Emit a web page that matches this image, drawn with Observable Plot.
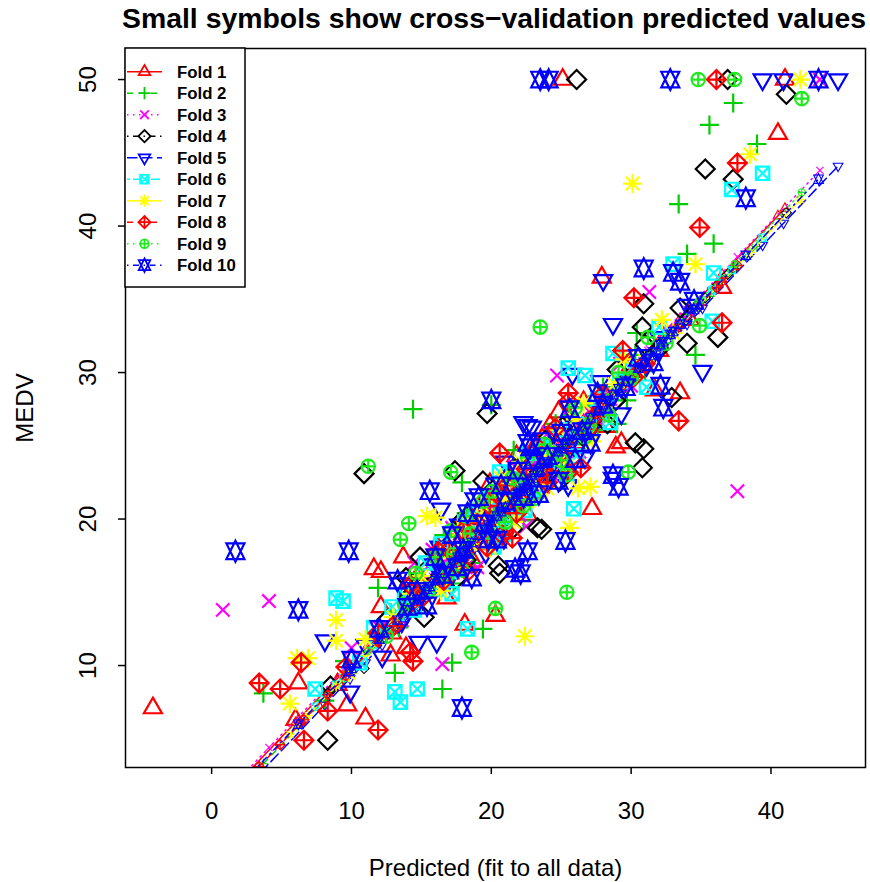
<!DOCTYPE html>
<html><head><meta charset="utf-8">
<script src="https://cdn.jsdelivr.net/npm/d3@7"></script>
<script src="https://cdn.jsdelivr.net/npm/@observablehq/plot@0.6"></script>
<style>
html,body{margin:0;padding:0;background:#fff;overflow:hidden;}
body{width:870px;height:882px;font-family:"Liberation Sans",Arial,sans-serif;position:relative;}
#title{position:absolute;left:0;top:0;width:988px;height:37px;line-height:37px;text-align:center;font-weight:bold;font-size:28.4px;white-space:nowrap;color:#000;}
#chart{position:absolute;left:0;top:37px;}
</style></head><body>
<div id="title">Small symbols show cross−validation predicted values</div>
<div id="chart"></div>
<script>
// ---------- data ----------
const xTicks = [0, 10, 20, 30, 40];
const yTicks = [10, 20, 30, 40, 50];
const foldNames = ["Fold 1","Fold 2","Fold 3","Fold 4","Fold 5","Fold 6","Fold 7","Fold 8","Fold 9","Fold 10"];
const xLabel = "Predicted (fit to all data)";
const yLabel = "MEDV";

// each point: [predicted (fit to all data), MEDV, cross-validation predicted]
const fold1 = [[25.1,50,25.3],[41.0,50,41.2],[40.5,46.3,40.7],[27.9,36.5,28.1],[33.5,28.6,33.7],[28.9,24.9,29.1],[29.3,25.2,29.5],[27.2,20.7,27.4],[24.2,26.4,24.4],[13.7,17.4,13.8],[11.6,16.6,11.7],[12.1,16.4,12.2],[12.1,14.0,12.2],[12.8,10.7,12.9],[13.9,11.2,14.0],[6.2,8.8,6.3],[9.7,7.3,9.8],[11.0,6.4,11.1],[-4.2,7.1,-4.1],[20.3,13.4,20.5],[18.1,12.8,18.2],[31.7,28.8,31.9],[21.3,20.7,21.5],[34.2,33.6,34.4],[36.5,35.8,36.7],
 [15.0,15.5,15.1],[18.0,19.0,18.1],[20.0,21.3,20.2],[22.0,22.5,22.2],[24.0,23.6,24.2],[26.0,25.2,26.2],[30.0,30.5,30.2],[32.0,31.5,32.2],[17.0,16.3,17.1],[23.0,21.8,23.2],[9.0,8.7,9.1],[19.2,20.9,19.3],[21.8,24.3,22.0],[16.2,18.0,16.3],[25.3,23.9,25.5],[23.7,25.6,23.9],[20.8,19.2,21.0],[14.2,14.9,14.3],[27.4,27.0,27.6],[22.6,20.3,22.8],[18.7,17.1,18.8],[6.0,6.3,6.1],
 [16.8,14.6,16.9],[19.6,18.3,19.7],[21.2,23.0,21.4],[23.4,22.7,23.6],[24.8,27.3,25.0],[26.6,28.0,26.8],[28.2,26.3,28.4],[14.8,16.2,14.9],[19.9,22.4,20.1],[22.9,24.6,23.1],[17.6,19.3,17.7],[12.9,12.2,13.0]];
const fold2 = [[37.3,48.4,36.9],[35.6,46.9,35.2],[39.0,45.6,38.6],[33.4,41.5,33.0],[35.9,38.8,35.5],[34.0,38.1,33.6],[30.4,32.7,30.0],[34.6,31.2,34.2],[29.0,26.5,28.6],[21.6,24.7,21.2],[14.4,27.5,14.0],[17.9,22.5,17.5],[20.0,27.8,19.6],[11.9,15.3,11.5],[13.1,9.5,12.7],[16.5,8.4,16.1],[17.2,10.2,16.8],[19.4,12.5,19.0],[3.7,8.1,3.3],
 [16.0,16.8,15.6],[19.0,18.4,18.6],[22.0,21.3,21.6],[24.0,24.9,23.6],[26.0,25.1,25.6],[27.0,27.8,26.6],[31.0,30.1,30.6],[20.5,19.6,20.1],[23.5,22.3,23.1],[14.5,14.1,14.1],[9.5,10.3,9.1],[28.0,29.0,27.6],[18.2,20.4,17.8],[21.1,22.9,20.7],[25.2,23.0,24.8],[17.3,15.6,16.9],[22.8,24.1,22.4],[12.8,13.6,12.4],[29.7,28.1,29.3],[24.6,26.5,24.2],[8.1,7.6,7.7],
 [15.2,16.0,14.8],[18.7,17.0,18.3],[20.9,21.9,20.5],[22.3,19.9,21.9],[23.9,22.9,23.5],[25.7,27.1,25.3],[27.6,26.1,27.2],[16.6,18.9,16.2],[19.8,20.8,19.4],[24.4,23.7,24.0],[13.4,12.6,13.0],[30.3,31.2,29.9]];
const fold3 = [[43.5,50,43.8],[31.3,35.5,31.6],[25.6,26.9,25.9],[24.7,29.8,25.0],[37.6,21.9,37.9],[0.8,13.8,1.1],[4.1,14.4,4.4],[16.5,10.1,16.8],[23.2,24.1,23.5],
 [12.0,12.6,12.3],[15.0,16.3,15.3],[18.0,18.1,18.3],[19.5,20.5,19.8],[21.0,21.8,21.3],[22.0,20.3,22.3],[23.0,23.7,23.3],[25.0,23.9,25.3],[27.0,27.4,27.3],[28.5,28.2,28.8],[30.0,29.1,30.3],[34.0,33.6,34.3],[10.0,11.2,10.3],[14.5,17.0,14.8],[22.5,19.5,22.8],[17.2,19.4,17.5],[20.3,18.6,20.6],[24.1,25.9,24.4],[26.3,24.6,26.6],[19.0,16.7,19.3],[32.5,32.9,32.8],[16.0,15.2,16.3],[21.7,23.6,22.0],[29.2,30.6,29.5],
 [13.6,13.1,13.9],[16.9,16.9,17.2],[18.6,20.3,18.9],[20.8,22.4,21.1],[21.9,21.2,22.2],[23.7,22.2,24.0],[25.6,25.7,25.9],[27.8,26.6,28.1],[15.8,17.9,16.1],[19.8,19.0,20.1],[24.6,22.8,24.9],[31.2,30.5,31.5]];
const fold4 = [[26.1,50,25.9],[36.9,50,36.7],[41.1,49.0,40.9],[35.3,43.9,35.1],[37.3,43.2,37.1],[30.9,34.7,30.7],[30.8,33.1,30.6],[36.2,32.4,36.0],[34.0,32.0,33.8],[32.9,28.3,32.7],[30.3,25.2,30.1],[30.9,24.8,30.7],[30.8,23.5,30.6],[19.7,27.2,19.5],[19.4,22.6,19.2],[17.4,23.3,17.2],[10.9,23.1,9.8],[14.9,17.4,14.7],[17.9,19.9,17.7],[23.3,19.4,23.1],[23.6,19.3,23.4],[20.5,16.8,20.3],[20.6,16.3,20.4],[8.3,4.9,8.1],
 [12.5,13.1,12.3],[16.0,15.8,15.8],[21.0,20.5,20.8],[24.5,24.0,24.3],[27.5,27.1,27.3],[29.0,30.2,28.8],[32.0,31.6,31.8],[33.5,34.4,33.3],[18.5,20.3,18.3],[8.5,8.6,8.3],[22.4,21.6,22.2],[26.0,24.9,25.8],[15.2,13.3,15.0],[21.8,23.5,21.6],[25.1,26.3,24.9],[19.9,18.6,19.7],[13.9,16.0,13.7],[28.3,26.5,28.1],
 [14.1,14.7,13.9],[16.8,18.1,16.6],[18.2,17.2,18.0],[20.3,21.7,20.1],[22.9,22.7,22.7],[23.9,25.4,23.7],[26.6,25.8,26.4],[28.9,28.1,28.7],[17.5,15.9,17.3],[21.5,19.3,21.3],[24.9,22.6,24.7],[31.0,31.9,30.8]];
const fold5 = [[39.4,50,38.7],[40.9,50,40.2],[44.8,50,44.1],[28.0,36.3,27.3],[28.7,33.3,28.0],[35.1,30.1,34.4],[25.8,29.9,25.1],[22.3,26.6,21.5],[22.9,26.3,22.1],[22.6,26.4,21.8],[28.7,22.8,28.0],[13.4,15.6,12.6],[16.4,20.7,15.6],[8.1,11.7,7.3],[9.9,8.2,9.1],[14.8,11.6,14.0],[16.1,11.6,15.3],
 [11.0,11.4,10.2],[15.0,15.0,14.2],[18.0,17.6,17.2],[20.0,20.6,19.2],[21.5,21.9,20.7],[24.0,23.2,23.2],[26.0,26.5,25.3],[27.0,25.9,26.3],[30.0,29.6,29.3],[32.0,32.4,31.3],[34.0,34.6,33.3],[19.0,19.3,18.2],[23.0,22.2,22.2],[17.0,15.9,16.2],[14.0,14.9,13.2],[16.3,18.1,15.5],[20.9,18.7,20.1],[25.2,24.2,24.4],[29.3,27.2,28.6],[12.2,10.6,11.4],[18.8,21.4,18.0],[23.6,25.5,22.8],[27.8,29.4,27.1],[21.0,23.9,20.2],
 [13.6,13.0,12.8],[15.9,16.9,15.1],[17.7,19.6,16.9],[19.6,17.7,18.8],[21.4,20.1,20.6],[22.5,23.3,21.7],[24.5,25.9,23.7],[26.7,24.2,25.9],[28.4,28.0,27.7],[31.1,30.5,30.4],[20.3,22.4,19.5],[25.5,22.3,24.7]];
const fold6 = [[39.4,43.6,39.2],[37.2,42.5,37.0],[33.0,37.4,32.8],[35.9,36.8,35.7],[35.8,33.5,35.6],[28.7,31.3,28.5],[25.5,30.3,25.3],[20.6,23.2,20.4],[25.9,20.7,25.7],[17.2,14.9,17.0],[18.3,12.5,18.1],[8.9,14.6,8.7],[9.4,14.4,9.2],[11.6,12.6,11.4],[13.1,8.2,12.9],[13.5,7.5,13.3],[14.7,8.4,14.5],[7.4,8.4,7.2],[26.7,29.8,26.5],
 [16.0,15.2,15.8],[19.0,19.0,18.8],[22.0,21.4,21.8],[24.0,23.9,23.8],[27.0,26.5,26.8],[30.0,30.2,29.8],[32.0,33.1,31.8],[14.5,13.8,14.3],[21.0,20.1,20.8],[28.5,26.6,28.3],[23.0,22.0,22.8],[18.1,19.8,17.9],[20.2,18.1,20.0],[24.9,26.1,24.7],[15.3,17.0,15.1],[22.7,24.5,22.5],[12.9,14.0,12.7],[31.1,29.0,30.9],[26.1,24.3,25.9],[10.6,10.2,10.4],
 [13.8,14.8,13.6],[17.0,16.4,16.8],[18.9,20.6,18.7],[21.6,22.7,21.4],[22.4,20.6,22.2],[23.6,24.9,23.4],[25.4,23.1,25.2],[27.6,28.2,27.4],[16.4,18.3,16.2],[19.8,21.4,19.6],[29.2,29.4,29.0],[20.9,19.0,20.7]];
const fold7 = [[42.1,50,41.8],[38.5,44.9,38.2],[30.1,42.9,29.8],[34.6,37.4,34.3],[26.2,22.1,25.9],[27.1,22.2,26.8],[25.6,19.4,25.3],[22.4,12.0,22.1],[16.0,20.1,15.7],[15.4,20.2,15.1],[8.9,13.1,8.6],[8.9,11.7,8.6],[6.1,10.5,5.8],[6.9,10.5,6.6],[5.6,7.4,5.3],[19.9,18.0,19.6],
 [13.0,13.3,12.7],[17.0,17.7,16.7],[21.0,21.3,20.7],[23.0,22.8,22.7],[24.5,24.4,24.2],[28.0,27.6,27.7],[31.0,30.8,30.7],[33.0,32.7,32.7],[11.0,11.8,10.7],[20.0,19.6,19.7],[26.0,26.8,25.7],[18.5,18.3,18.2],[22.1,23.9,21.8],[19.3,21.0,19.0],[24.0,22.1,23.7],[16.4,15.1,16.1],[29.5,30.9,29.2],[14.3,14.9,14.0],[21.6,19.8,21.3],[27.2,25.3,26.9],[17.6,19.2,17.3],[9.8,9.5,9.5],[32.2,33.6,31.9],[20.7,22.8,20.4],
 [15.0,16.1,14.7],[17.9,16.6,17.6],[19.0,20.1,18.7],[20.4,21.5,20.1],[22.6,21.2,22.3],[23.5,24.6,23.2],[25.2,24.0,24.9],[26.6,27.9,26.3],[18.2,19.9,17.9],[21.3,22.4,21.0],[24.8,26.1,24.5],[28.8,29.2,28.5]];
const fold8 = [[36.1,50,35.8],[37.6,44.3,37.3],[34.9,39.9,34.6],[30.2,35.1,29.9],[36.5,33.4,36.2],[25.5,28.6,25.2],[25.5,28.0,25.2],[33.4,26.7,33.1],[20.6,24.5,20.3],[21.5,18.7,21.2],[25.5,23.2,25.2],[26.4,23.5,26.1],[11.9,12.2,11.6],[14.2,10.9,13.9],[14.4,10.3,14.1],[3.4,8.8,3.1],[4.9,8.4,4.6],[6.4,10.2,6.1],[8.3,6.9,8.0],[11.9,5.6,11.6],[6.6,4.9,6.3],
 [15.0,14.6,14.7],[17.0,17.9,16.7],[19.0,19.7,18.7],[22.5,23.4,22.2],[24.0,22.5,23.7],[28.0,28.5,27.7],[31.0,30.6,30.7],[13.0,12.7,12.7],[18.3,16.4,18.0],[20.4,21.8,20.1],[23.3,24.9,23.0],[16.2,17.8,15.9],[26.9,26.1,26.6],[21.8,20.4,21.5],[29.4,31.5,29.1],[9.6,9.9,9.3],[19.7,18.1,19.4],[24.6,26.2,24.3],
 [14.2,15.5,13.9],[16.6,15.8,16.3],[18.0,19.2,17.7],[19.9,20.9,19.6],[21.1,22.3,20.8],[22.1,21.2,21.8],[23.7,23.4,23.4],[25.0,24.5,24.7],[27.4,27.0,27.1],[17.5,16.8,17.2],[20.8,18.9,20.5],[30.2,29.7,29.9]];
const fold9 = [[34.8,50,34.8],[37.4,50,37.4],[42.2,48.7,42.3],[23.5,33.1,23.4],[34.9,33.2,34.9],[29.8,23.2,29.7],[17.1,23.2,17.0],[11.2,23.6,11.0],[14.1,19.7,14.0],[13.5,18.6,13.4],[17.1,19.2,17.0],[25.4,15.0,25.3],[20.3,13.9,20.2],[18.6,10.9,18.5],
 [12.5,12.0,12.3],[15.5,15.1,15.4],[18.5,19.0,18.4],[20.5,20.3,20.4],[22.0,22.6,21.9],[24.5,24.5,24.4],[27.0,26.4,26.9],[30.0,29.6,29.9],[32.5,32.0,32.5],[16.0,17.4,15.9],[21.0,19.8,20.9],[19.4,21.2,19.3],[23.1,21.4,23.0],[26.0,27.6,25.9],[14.6,16.3,14.5],[28.4,27.1,28.3],[22.6,24.2,22.5],[17.9,16.5,17.8],[25.3,23.0,25.2],[31.2,32.4,31.1],
 [13.8,14.2,13.7],[16.8,16.1,16.7],[18.2,20.2,18.1],[19.8,19.1,19.7],[21.5,22.8,21.4],[22.3,20.9,22.2],[23.8,25.1,23.7],[25.0,24.0,24.9],[26.7,25.6,26.6],[29.1,30.0,29.0],[20.1,21.9,20.0],[17.3,17.6,17.2]];
const fold10 = [[23.5,50,23.3],[24.1,50,23.9],[32.8,50,32.6],[43.4,50,43.2],[38.2,41.9,38.0],[30.9,37.1,30.7],[33.0,36.8,32.8],[33.5,36.2,33.3],[32.1,29.1,31.9],[32.3,27.6,32.1],[29.1,22.2,28.9],[28.7,23.0,28.5],[20.0,28.1,19.8],[22.6,25.2,22.4],[22.8,24.9,22.6],[15.6,21.9,15.4],[25.3,18.5,25.1],[22.6,17.8,22.4],[21.7,16.6,21.5],[22.1,16.3,21.9],[1.7,17.8,1.5],[9.8,17.8,9.6],[6.2,13.8,6.0],[17.9,7.1,17.7],
 [12.0,12.5,11.8],[14.0,14.0,13.8],[16.5,16.2,16.3],[18.0,17.9,17.8],[19.5,19.7,19.3],[21.0,21.2,20.8],[24.0,24.3,23.8],[26.5,26.0,26.3],[28.0,27.8,27.8],[30.5,31.0,30.3],[34.5,34.9,34.3],[10.0,10.4,9.8],[17.2,18.9,17.0],[20.4,18.6,20.2],[23.4,21.7,23.2],[19.1,21.5,18.9],[25.6,27.5,25.4],[15.4,14.1,15.2],[27.1,25.2,26.9],[13.3,15.8,13.1],[21.9,23.3,21.7],[29.6,29.0,29.4],[18.6,16.0,18.4],[24.8,22.6,24.6],
 [14.7,15.1,14.5],[16.0,17.4,15.8],[17.6,16.7,17.4],[18.3,20.4,18.1],[19.8,18.6,19.6],[20.7,22.3,20.5],[22.3,21.5,22.1],[23.0,24.0,22.8],[25.0,25.9,24.8],[26.0,24.1,25.8],[27.6,28.6,27.4],[31.6,30.7,31.4]];
const folds = [fold1, fold2, fold3, fold4, fold5, fold6, fold7, fold8, fold9, fold10];

// per-fold fitted lines (start / end)
const lineX0 = [-4.2, 3.7, 0.8, 8.3, 3.5, 7.4, 5.6, 3.4, 11.2, 1.7];
const lineY0 = [-4.1, 3.3, 1.1, 8.1, 2.7, 7.2, 5.3, 3.1, 11.0, 1.5];
const lineX1 = [41.0, 39.0, 43.5, 41.1, 44.8, 39.4, 42.1, 37.6, 42.2, 43.4];
const lineY1 = [41.2, 38.6, 43.8, 40.9, 44.1, 39.2, 41.8, 37.3, 42.3, 43.2];

// ---------- styles ----------
const colors = ["#FF0000","#00CD00","#FF00FF","#000000","#0000FF","#00FFFF","#FFFF00","#FF0000","#1EEB1E","#0000FF"];
const dashes = [null,"6,6","1.5,4.5","1.5,4.5,6,4.5","10.5,4.5","3,3,9,3",null,"6,6","1.5,4.5","1.5,4.5,6,4.5"];

const T0 = 1.5551, T1 = 1.3468, T2 = 0.7776, S2 = Math.SQRT2;
function triUp(c,r){c.moveTo(0,-T0*r);c.lineTo(T1*r,T2*r);c.lineTo(-T1*r,T2*r);c.closePath();}
function triDown(c,r){c.moveTo(0,T0*r);c.lineTo(T1*r,-T2*r);c.lineTo(-T1*r,-T2*r);c.closePath();}
function plus(c,h){c.moveTo(-h,0);c.lineTo(h,0);c.moveTo(0,-h);c.lineTo(0,h);}
function cross(c,h){c.moveTo(-h,-h);c.lineTo(h,h);c.moveTo(-h,h);c.lineTo(h,-h);}
function diamond(c,h){c.moveTo(-h,0);c.lineTo(0,-h);c.lineTo(h,0);c.lineTo(0,h);c.closePath();}
function square(c,h){c.moveTo(-h,-h);c.lineTo(h,-h);c.lineTo(h,h);c.lineTo(-h,h);c.closePath();}
const pchDraw = [
  (c,r)=>triUp(c,r),
  (c,r)=>plus(c,S2*r),
  (c,r)=>cross(c,r),
  (c,r)=>diamond(c,S2*r),
  (c,r)=>triDown(c,r),
  (c,r)=>{square(c,r);cross(c,r);},
  (c,r)=>{cross(c,r);plus(c,S2*r);},
  (c,r)=>{diamond(c,S2*r);plus(c,S2*r);},
  (c,r)=>{c.moveTo(r,0);c.arc(0,0,r,0,2*Math.PI);plus(c,r);},
  (c,r)=>{const R=T0*r, yc=0.5*(T2*r+R), xc=T1*r;
          c.moveTo(0,-R);c.lineTo(xc,yc);c.lineTo(-xc,yc);c.closePath();
          c.moveTo(0,R);c.lineTo(xc,-yc);c.lineTo(-xc,-yc);c.closePath();}
];
const symbols = pchDraw.map(f => ({draw(ctx, size){ f(ctx, Math.sqrt(size/Math.PI)); }}));

// ---------- chart ----------
const marks = [];
folds.forEach((data, i) => {
  marks.push(Plot.dot(data, {x: d=>d[0], y: d=>d[1], r: 6.7, symbol: symbols[i], stroke: colors[i], fill: "none", strokeWidth: 2.2, clip: true}));
  marks.push(Plot.dot(data, {x: d=>d[0], y: d=>d[2], r: 3.6, symbol: symbols[i], stroke: colors[i], fill: "none", strokeWidth: 1.1, clip: true}));
  marks.push(Plot.line([[lineX0[i], lineY0[i]], [lineX1[i], lineY1[i]]], {x: d=>d[0], y: d=>d[1], stroke: colors[i], strokeWidth: 1.5, strokeDasharray: dashes[i], clip: true}));
});
marks.push(Plot.frame({stroke: "black", strokeWidth: 1.5}));
marks.push(Plot.axisX({ticks: xTicks, tickSize: 7, tickPadding: 27, fontSize: 24, label: null, tickFormat: d=>String(d), strokeWidth: 1.5}));
marks.push(Plot.axisY({ticks: yTicks, tickSize: 7, label: null, tickFormat: () => "", strokeWidth: 1.5}));
marks.push(Plot.text(yTicks, {y: d=>d, text: d=>String(d), frameAnchor: "left", dx: -37, rotate: -90, fontSize: 24, lineAnchor: "middle", textAnchor: "middle", fill: "black"}));
marks.push(Plot.text([xLabel], {text: d=>d, frameAnchor: "bottom", dy: 101, fontSize: 24, lineAnchor: "middle", fill: "black"}));
marks.push(Plot.text([yLabel], {text: d=>d, frameAnchor: "left", dx: -100, rotate: -90, fontSize: 24, lineAnchor: "middle", textAnchor: "middle", fill: "black"}));

const chart = Plot.plot({
  width: 870, height: 845,
  marginTop: 11, marginBottom: 115, marginLeft: 125, marginRight: 5,
  x: {domain: [-6.16, 46.76], axis: null},
  y: {domain: [3.04, 52.12], axis: null},
  style: {fontFamily: "Liberation Sans, Arial, sans-serif", background: "white", color: "black", overflow: "visible"},
  marks
});
document.getElementById("chart").appendChild(chart);

// ---------- legend ----------
const svg = d3.select(chart);
const lg = svg.append("g").attr("text-anchor", "start");
lg.append("rect").attr("x", 125).attr("y", 11).attr("width", 120).attr("height", 239)
  .attr("fill", "white").attr("stroke", "black").attr("stroke-width", 1.5);
foldNames.forEach((name, i) => {
  const y = 34.7 + i * 21.5;
  const ln = lg.append("line").attr("x1", 127).attr("x2", 162).attr("y1", y).attr("y2", y)
    .attr("stroke", colors[i]).attr("stroke-width", 1.5);
  if (dashes[i]) ln.attr("stroke-dasharray", dashes[i]);
  lg.append("path").attr("transform", `translate(144.5,${y})`)
    .attr("d", d3.symbol(symbols[i], 4.3 * 4.3 * Math.PI)())
    .attr("fill", "none").attr("stroke", colors[i]).attr("stroke-width", 1.8);
  lg.append("text").attr("x", 177).attr("y", y).attr("dy", "0.35em").attr("text-anchor", "start")
    .attr("font-size", 16.8).attr("font-weight", "bold").attr("fill", "black")
    .attr("font-family", "Liberation Sans, Arial, sans-serif").text(name);
});
</script></body></html>
